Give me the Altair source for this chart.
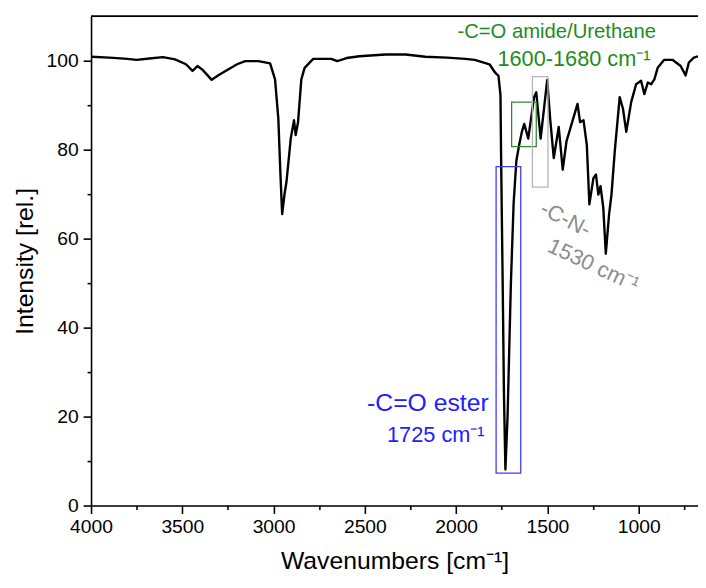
import altair as alt
import pandas as pd

# ---- spectrum ----
wavenumbers = [4000, 3900, 3800, 3751, 3680, 3606, 3540, 3480, 3444, 3417, 3390, 3339, 3300, 3263,
               3200, 3155, 3083, 3019, 2992, 2974, 2962, 2953, 2940, 2929, 2906, 2888, 2879, 2866,
               2848, 2830, 2783, 2684, 2651, 2600, 2530, 2386, 2277, 2169, 2050, 1950, 1898, 1817,
               1786, 1768, 1757, 1754, 1745, 1738, 1730, 1718, 1700, 1685, 1670, 1655, 1640, 1627,
               1605, 1573, 1561, 1537, 1501, 1485, 1465, 1438, 1416, 1395, 1380, 1335, 1321, 1302,
               1284, 1270, 1248, 1234, 1221, 1209, 1194, 1180, 1162, 1149, 1131, 1104, 1086, 1068,
               1041, 1014, 987, 969, 950, 932, 914, 896, 860, 815, 770, 743, 725, 698, 675]
intensity = [100.9, 100.7, 100.4, 100.2, 100.5, 100.8, 100.3, 99.2, 97.7, 98.8, 98.0, 95.7, 96.8, 97.7,
             99.2, 99.9, 99.9, 99.4, 95.8, 87.0, 74.0, 65.5, 70.0, 72.9, 82.5, 86.6, 83.3, 86.2,
             95.8, 98.4, 100.4, 100.4, 99.9, 100.6, 101.0, 101.4, 101.4, 100.9, 100.7, 100.4, 100.2, 99.2,
             97.3, 96.6, 92.2, 79.6, 50.0, 25.0, 8.1, 20.3, 50.0, 68.0, 77.5, 81.0, 84.0, 85.8,
             82.5, 91.8, 92.9, 82.5, 95.7, 87.0, 78.1, 85.1, 75.5, 82.0, 84.0, 90.3, 86.2, 86.6,
             81.0, 67.7, 73.6, 74.4, 69.9, 71.8, 67.0, 56.6, 65.5, 69.9, 79.6, 91.8, 89.2, 84.0,
             90.7, 94.7, 95.5, 92.5, 95.1, 94.7, 95.8, 98.4, 100.2, 100.2, 98.8, 96.7, 99.6, 100.7, 101.0]

# ---- annotation boxes ----
box_x1 = [1781, 1696, 1582]
box_x2 = [1646, 1561, 1497]
box_y1 = [7.3, 80.7, 71.6]
box_y2 = [76.2, 90.7, 96.4]
box_color = ["#3c3cff", "#2e8b2e", "#b4b4b4"]

# ---- annotation texts ----
ann_text = ["-C=O amide/Urethane", "1600-1680 cm\u207b\u00b9", "-C=O ester", "1725 cm\u207b\u00b9",
            "-C-N-", "1530 cm\u207b\u00b9"]
ann_x = [1449, 1774, 1822, 1844, 1400, 1248]
ann_y = [105.1, 98.9, 21.3, 14.2, 64.4, 54.0]
ann_size = [20.5, 22, 25, 22, 22, 22]
ann_color = ["#1e8c1e", "#1e8c1e", "#2020ff", "#2020ff", "#8c8c8c", "#8c8c8c"]
ann_align = ["center", "left", "right", "right", "center", "center"]
ann_baseline = ["alphabetic", "alphabetic", "alphabetic", "alphabetic", "middle", "middle"]
ann_angle = [0, 0, 0, 0, 27, 25]

FONT = "Liberation Sans"

x_scale = alt.Scale(domain=[675, 4000], reverse=True, nice=False, zero=False)
y_scale = alt.Scale(domain=[0, 110], nice=False, zero=False)

x_axis = alt.Axis(
    title="Wavenumbers [cm\u207b\u00b9]",
    values=list(range(750, 4001, 250)),
    labelExpr="datum.value % 500 === 0 ? datum.label : ''",
    format="d",
    tickSize={"condition": {"test": "datum.value % 500 === 0", "value": 8}, "value": 4},
    tickWidth=1.6, tickColor="black", domainColor="black", domainWidth=1.6,
    labelFontSize=19.5, labelColor="black", labelFont=FONT, labelPadding=4,
    labelFlush=False, labelOverlap=False, grid=False,
    titleFontSize=25, titleFont=FONT, titleFontWeight="normal", titleColor="black",
    titlePadding=13,
)
y_axis = alt.Axis(
    title="Intensity [rel.]",
    values=list(range(0, 101, 10)),
    labelExpr="datum.value % 20 === 0 ? datum.label : ''",
    format="d",
    tickSize={"condition": {"test": "datum.value % 20 === 0", "value": 8}, "value": 4},
    tickWidth=1.6, tickColor="black", domainColor="black", domainWidth=1.6,
    labelFontSize=19.5, labelColor="black", labelFont=FONT, labelPadding=5,
    labelFlush=False, labelOverlap=False, grid=False,
    titleFontSize=25, titleFont=FONT, titleFontWeight="normal", titleColor="black",
    titlePadding=9,
)

spec_df = pd.DataFrame({"wn": wavenumbers, "val": intensity})

line = alt.Chart(spec_df).mark_line(color="black", strokeWidth=2.4, strokeJoin="round").encode(
    x=alt.X("wn:Q", scale=x_scale, axis=x_axis),
    y=alt.Y("val:Q", scale=y_scale, axis=y_axis),
)

top = alt.Chart(pd.DataFrame({"y": [110]})).mark_rule(color="black", strokeWidth=1.8).encode(
    y=alt.Y("y:Q", scale=y_scale)
)

box_df = pd.DataFrame({"x1": box_x1, "x2": box_x2, "y1": box_y1, "y2": box_y2, "c": box_color})
boxes = alt.Chart(box_df).mark_rect(fillOpacity=0, strokeWidth=1.3).encode(
    x=alt.X("x1:Q", scale=x_scale), x2="x2:Q",
    y=alt.Y("y1:Q", scale=y_scale), y2="y2:Q",
    stroke=alt.Stroke("c:N", scale=None),
)

layers = [line, top, boxes]
for i in range(len(ann_text)):
    d = pd.DataFrame({"x": [ann_x[i]], "y": [ann_y[i]], "t": [ann_text[i]]})
    layers.append(
        alt.Chart(d).mark_text(
            font=FONT, fontSize=ann_size[i], color=ann_color[i], align=ann_align[i],
            baseline=ann_baseline[i], angle=ann_angle[i],
        ).encode(
            x=alt.X("x:Q", scale=x_scale), y=alt.Y("y:Q", scale=y_scale), text="t:N"
        )
    )

chart = alt.layer(*layers).properties(
    width=614, height=495,
    padding={"left": 84, "top": 5, "right": 0, "bottom": 72},
    autosize=alt.AutoSizeParams(type="none"),
).configure_view(stroke=None).configure(background="white")

chart.save("out.html", embed_options={"renderer": "svg", "actions": False})
